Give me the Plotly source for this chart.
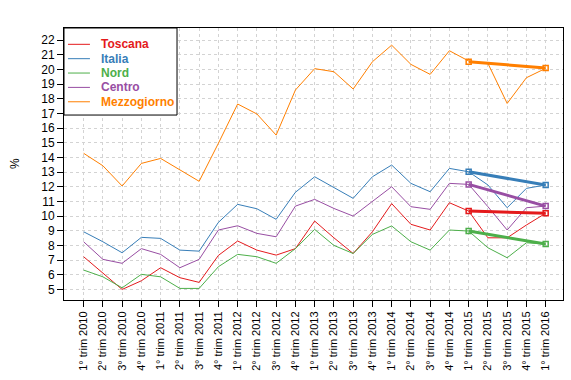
import plotly.graph_objects as go

quarters = [
    "1° trim 2010", "2° trim 2010", "3° trim 2010", "4° trim 2010",
    "1° trim 2011", "2° trim 2011", "3° trim 2011", "4° trim 2011",
    "1° trim 2012", "2° trim 2012", "3° trim 2012", "4° trim 2012",
    "1° trim 2013", "2° trim 2013", "3° trim 2013", "4° trim 2013",
    "1° trim 2014", "2° trim 2014", "3° trim 2014", "4° trim 2014",
    "1° trim 2015", "2° trim 2015", "3° trim 2015", "4° trim 2015",
    "1° trim 2016",
]

toscana = [7.23, 6.10, 5.00, 5.59, 6.48, 5.80, 5.48, 7.32, 8.30, 7.68, 7.34, 7.78, 9.66,
           8.52, 7.45, 8.93, 10.85, 9.44, 9.05, 10.91, 10.34, 8.52, 8.52, 9.39, 10.19]
italia = [8.93, 8.25, 7.50, 8.55, 8.48, 7.68, 7.61, 9.57, 10.80, 10.50, 9.78, 11.62, 12.68,
          11.93, 11.21, 12.68, 13.48, 12.23, 11.66, 13.25, 13.02, 12.12, 10.57, 11.89, 12.12]
nord = [6.32, 5.86, 5.11, 6.03, 5.86, 5.07, 5.07, 6.55, 7.39, 7.23, 6.78, 7.78, 9.09,
        8.00, 7.45, 8.75, 9.33, 8.25, 7.68, 9.05, 8.98, 7.84, 7.16, 8.18, 8.09]
centro = [8.25, 7.05, 6.78, 7.78, 7.39, 6.48, 7.05, 9.05, 9.34, 8.82, 8.59, 10.68, 11.14,
          10.52, 10.00, 10.98, 12.00, 10.64, 10.46, 12.23, 12.16, 10.64, 9.05, 10.57, 10.68]
mezzogiorno = [14.28, 13.43, 12.05, 13.59, 13.93, 13.14, 12.37, 14.96, 17.64, 16.96, 15.52,
               18.59, 20.05, 19.84, 18.66, 20.52, 21.65, 20.34, 19.66, 21.27, 20.57, 20.41,
               17.68, 19.43, 20.07]

# trend segments 1° trim 2015 -> 1° trim 2016
trend_x = ["1° trim 2015", "1° trim 2016"]
trend_toscana = [10.34, 10.19]
trend_italia = [13.02, 12.12]
trend_nord = [8.98, 8.09]
trend_centro = [12.16, 10.68]
trend_mezzogiorno = [20.52, 20.10]

y_ticks = list(range(5, 23))

names = ["Toscana", "Italia", "Nord", "Centro", "Mezzogiorno"]
colors = ["#E41A1C", "#377EB8", "#4DAF4A", "#984EA3", "#FF7F00"]
series = [toscana, italia, nord, centro, mezzogiorno]
trends = [trend_toscana, trend_italia, trend_nord, trend_centro, trend_mezzogiorno]

fig = go.Figure()
for n, c, s in zip(names, colors, series):
    fig.add_trace(go.Scatter(
        x=quarters, y=s, mode="lines", line=dict(color=c, width=1),
        name=n, showlegend=False,
    ))
for n, c, t in zip(names, colors, trends):
    fig.add_trace(go.Scatter(
        x=trend_x, y=t, mode="lines+markers", line=dict(color=c, width=3),
        marker=dict(symbol="square-open", size=5, color=c, line=dict(width=1.5, color=c)),
        name=n + " trend", showlegend=False,
    ))

# manual legend box (paper coordinates)
fig.add_shape(type="rect", xref="paper", yref="paper", x0=0, x1=0.2265, y0=0.68, y1=1,
              line=dict(color="black", width=1), fillcolor="white", layer="above")
leg_y0, leg_dy = 0.940, 0.0528
for i, (n, c) in enumerate(zip(names, colors)):
    yy = leg_y0 - i * leg_dy
    fig.add_shape(type="line", xref="paper", yref="paper", x0=0.008, x1=0.052, y0=yy, y1=yy,
                  line=dict(color=c, width=1), layer="above")
    fig.add_annotation(xref="paper", yref="paper", x=0.07, y=yy, xanchor="left",
                       yanchor="middle", text=f"<b>{n}</b>", showarrow=False,
                       font=dict(size=12, color=c))

# y axis title
fig.add_annotation(xref="paper", yref="paper", x=-0.098, y=0.5, xanchor="center",
                   yanchor="middle", text="%", textangle=-90, showarrow=False,
                   font=dict(size=12, color="black"))

fig.update_layout(
    width=571, height=380,
    margin=dict(l=64, r=8, t=28, b=80, autoexpand=False),
    paper_bgcolor="white", plot_bgcolor="white",
    font=dict(family="Liberation Sans, Arial, sans-serif", size=11, color="black"),
    showlegend=False, hovermode=False,
    xaxis=dict(
        type="category", categoryorder="array", categoryarray=quarters,
        range=[-1.02, 24.9], tickangle=-90, tickfont=dict(size=11),
        showline=True, linecolor="black", linewidth=1, mirror=True,
        ticks="outside", ticklen=6, tickcolor="black",
        showgrid=True, gridcolor="#D3D3D3", griddash="3px,3px", gridwidth=1,
        zeroline=False, automargin=False,
    ),
    yaxis=dict(
        range=[4.28, 22.82], tickmode="array", tickvals=y_ticks,
        tickfont=dict(size=12),
        showline=True, linecolor="black", linewidth=1, mirror=True,
        ticks="outside", ticklen=6, tickcolor="black",
        showgrid=True, gridcolor="#D3D3D3", griddash="3px,3px", gridwidth=1,
        zeroline=False, automargin=False,
    ),
)

fig.write_html("out.html", config={"displayModeBar": False},
               post_script="document.body.style.margin='0px';")
